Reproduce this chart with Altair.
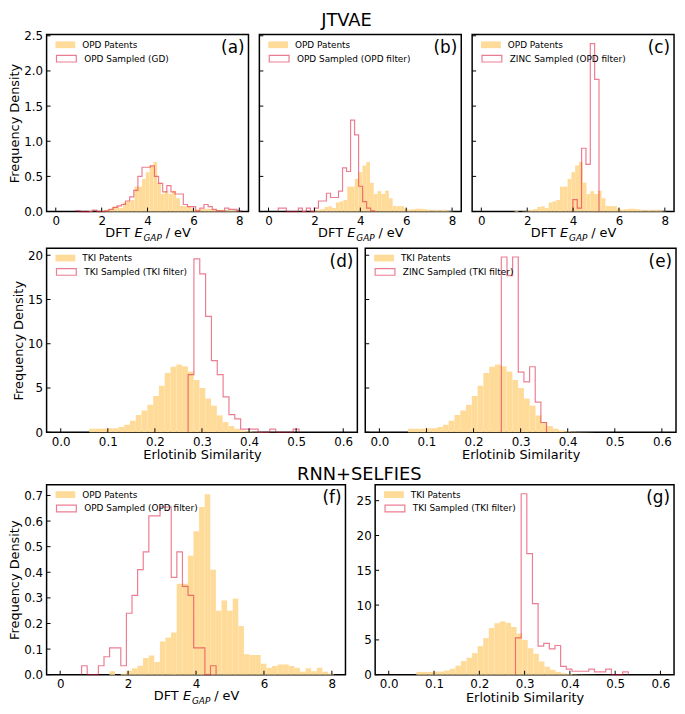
import altair as alt
import pandas as pd

FONT = "DejaVu Sans"
ORANGE = "#FFDB99"
PINK = "#DC143C"
RECT = "M-1,-0.34H1V0.34H-1Z"

# ---------------- data (bin start, bin width, bin heights) ----------------
# OPD patents, DFT E_GAP (eV)
opd_pat_start = 1.45
opd_pat_width = 0.165
opd_pat_heights = [0.013, 0.0, 0.004, 0.015, 0.025, 0.035, 0.065, 0.075, 0.05, 0.13,
                   0.145, 0.165, 0.355, 0.355, 0.465, 0.56, 0.655, 0.705, 0.41, 0.25,
                   0.29, 0.25, 0.297, 0.19, 0.08, 0.077, 0.077, 0.043, 0.027, 0.034,
                   0.04, 0.04, 0.034, 0.027, 0.012, 0.025, 0.014, 0.027, 0.012, 0.005]

# TKI patents, Erlotinib similarity
tki_pat_start = 0.061
tki_pat_width = 0.0123
tki_pat_heights = [0.4, 0.4, 0.4, 0.45, 0.45, 0.6, 0.85, 1.3, 1.95, 2.45, 3.1, 4.1,
                   5.25, 6.7, 7.4, 7.65, 7.45, 6.85, 5.9, 5.0, 3.8, 3.0, 1.9, 1.15,
                   0.7, 0.4, 0.2, 0.1, 0.05, 0.03, 0.02, 0.01]

# (a) OPD Sampled (GD)
a_start = 0.88
a_width = 0.18
a_heights = [0.01, 0, 0, 0, 0.02, 0, 0, 0.01, 0.03, 0.06, 0.08, 0.1, 0.15, 0.21,
             0.3, 0.5, 0.63, 0.63, 0.65, 0.5, 0.4, 0.28, 0.37, 0.28, 0.25, 0.25,
             0.1, 0.07, 0.07, 0.01, 0.05, 0.1, 0.07, 0.03, 0.01, 0.01, 0.05, 0.03,
             0.03, 0.01]

# (b) OPD Sampled (OPD filter)
b_start = 0.425
b_width = 0.175
b_heights = [0.05, 0.05, 0, 0, 0, 0.05, 0, 0.05, 0, 0.05, 0.15, 0.15, 0.26, 0.2,
             0.2, 0.29, 0.62, 0.57, 1.3, 1.09, 0.36, 0.14, 0.05, 0.01]

# (c) ZINC Sampled (OPD filter)
c_start = 3.99
c_width = 0.19
c_heights = [0.17, 0.05, 0.9, 0.67, 2.39, 1.88]

# (d) TKI Sampled (TKI filter)
d_start = 0.2705
d_width = 0.0124
d_heights = [6.5, 19.6, 17.9, 13.1, 8.1, 6.5, 4.0, 2.0, 1.5, 0.35, 0.35, 0.35,
             0, 0, 0.35, 0, 0, 0, 0.35]

# (e) ZINC Sampled (TKI filter)
e_start = 0.259
e_width = 0.012
e_heights = [19.8, 17.7, 19.8, 6.8, 5.7, 7.4, 3.4, 1.1]

# (f) RNN+SELFIES OPD Sampled (OPD filter)
f_start = 0.63
f_width = 0.165
f_heights = [0.035, 0, 0, 0.035, 0.07, 0.105, 0.105, 0.035, 0.24, 0.31, 0.41,
             0.48, 0.62, 0.62, 0.655, 0.655, 0.38, 0.48, 0.345, 0.31, 0.105,
             0.105, 0, 0.035]

# (g) RNN+SELFIES TKI Sampled (TKI filter)
g_start = 0.28
g_width = 0.01245
g_heights = [5.3, 26.0, 17.4, 10.2, 4.1, 4.5, 3.7, 4.2, 1.2, 0.8, 0.5, 0.5, 0.5,
             0.8, 0.4, 0.4, 0.8, 0, 0, 0.4]

# axis ticks
opd_xticks = [0, 2, 4, 6, 8]
tki_xticks = [0.0, 0.1, 0.2, 0.3, 0.4, 0.5, 0.6]
row1_yticks = [0.0, 0.5, 1.0, 1.5, 2.0, 2.5]
row2_yticks = [0, 5, 10, 15, 20]
f_yticks = [0.0, 0.1, 0.2, 0.3, 0.4, 0.5, 0.6, 0.7]
g_yticks = [0, 5, 10, 15, 20, 25]


def bars_df(start, width, heights, label):
    n = len(heights)
    return pd.DataFrame({
        "l": [start + i * width for i in range(n)],
        "r": [start + (i + 1) * width for i in range(n)],
        "h": heights,
        "s": [label] * n,
    })


def step_df(start, width, heights, label):
    edges = [start + i * width for i in range(len(heights) + 1)]
    xs, ys = [edges[0]], [0.0]
    for i, h in enumerate(heights):
        xs += [edges[i], edges[i + 1]]
        ys += [h, h]
    xs.append(edges[-1])
    ys.append(0.0)
    return pd.DataFrame({"x": xs, "y": ys, "i": list(range(len(xs))), "s": [label] * len(xs)})


def legend(stroke, ly):
    kw = dict(title=None, orient="none", legendX=9, legendY=ly, symbolType=RECT,
              symbolSize=400, labelFont=FONT, labelFontSize=9, labelColor="black",
              labelOffset=7, padding=0, rowPadding=0)
    if stroke:
        kw.update(symbolStrokeWidth=1.2, symbolFillColor="transparent")
    else:
        kw.update(symbolStrokeWidth=0)
    return alt.Legend(**kw)


def text_layer(txt, x, y, size, style="normal", align="left", dy=0):
    return alt.Chart(pd.DataFrame({"t": [txt]})).mark_text(
        align=align, baseline="middle", font=FONT, fontSize=size, fontStyle=style,
        dy=dy, color="black").encode(x=alt.value(x), y=alt.value(y), text="t:N")


def panel(W, H, xdom, ydom, xticks, yticks, xfmt, yfmt, pat, samp, letter, show_y, ytitle,
          dft, leg_y=(0.5, 13.5), extra=None):
    xs = alt.Scale(domain=xdom, nice=False, zero=False)
    ys = alt.Scale(domain=ydom, nice=False, zero=False)
    xax = alt.Axis(values=xticks, format=xfmt, labelFlush=False, labelOverlap=False,
                   title=None if dft else "Erlotinib Similarity")
    yax = (alt.Axis(values=yticks, format=yfmt, labelFlush=False, labelOverlap=False,
                    title="Frequency Density" if ytitle else None) if show_y else None)

    bars = alt.Chart(bars_df(*pat)).mark_rect().encode(
        x=alt.X("l:Q", scale=xs, axis=xax), x2="r:Q",
        y=alt.Y("h:Q", scale=ys, axis=yax), y2=alt.datum(0),
        fill=alt.Fill("s:N", scale=alt.Scale(domain=[pat[3]], range=[ORANGE]),
                      legend=legend(False, leg_y[0])))
    line = alt.Chart(step_df(*samp)).mark_line(strokeWidth=1.2, opacity=0.55).encode(
        x=alt.X("x:Q", scale=xs, axis=xax), y=alt.Y("y:Q", scale=ys, axis=yax),
        order="i:Q",
        stroke=alt.Stroke("s:N", scale=alt.Scale(domain=[samp[3]], range=[PINK]),
                          legend=legend(True, leg_y[1])))
    xt = alt.Chart(pd.DataFrame({"t": xticks})).mark_rule(color="black", strokeWidth=1).encode(
        x=alt.X("t:Q", scale=xs, axis=xax), y=alt.value(H), y2=alt.value(H - 4))
    yt = alt.Chart(pd.DataFrame({"t": yticks})).mark_rule(color="black", strokeWidth=1).encode(
        y=alt.Y("t:Q", scale=ys, axis=yax), x=alt.value(0), x2=alt.value(4))
    layers = [bars, line, xt, yt, text_layer(letter, W - 4, 14, 17, align="right")]
    if dft:
        c0 = W / 2 - 42.7
        base = H + 22
        layers += [
            text_layer("DFT", c0, base, 13),
            text_layer("E", c0 + 29.6, base, 13, "italic"),
            text_layer("GAP", c0 + 38.6, base, 9, "italic", dy=4.5),
            text_layer("/ eV", c0 + 61.0, base, 13),
        ]
    if extra is not None:
        layers.append(extra)
    return alt.layer(*layers).properties(width=W, height=H)


OPD_X = [-0.4, 8.4]
TKI_X = [-0.03, 0.63]
W1, H1 = 204, 179
W2, H2 = 314, 186
W3, H3 = 302, 192

# row-1 heading drawn above the middle panel
jtvae = text_layer("JTVAE", W1 / 2 - 14, -13, 18, align="center")

pa = panel(W1, H1, OPD_X, [0, 2.52], opd_xticks, row1_yticks, "d", ".1f",
           (opd_pat_start, opd_pat_width, opd_pat_heights, "OPD Patents"),
           (a_start, a_width, a_heights, "OPD Sampled (GD)"), "(a)", True, True, True)
pb = panel(W1, H1, OPD_X, [0, 2.52], opd_xticks, row1_yticks, "d", ".1f",
           (opd_pat_start, opd_pat_width, opd_pat_heights, "OPD Patents"),
           (b_start, b_width, b_heights, "OPD Sampled (OPD filter)"), "(b)", False, False, True,
           extra=jtvae)
pc = panel(W1, H1, OPD_X, [0, 2.52], opd_xticks, row1_yticks, "d", ".1f",
           (opd_pat_start, opd_pat_width, opd_pat_heights, "OPD Patents"),
           (c_start, c_width, c_heights, "ZINC Sampled (OPD filter)"), "(c)", False, False, True)
pd_ = panel(W2, H2, TKI_X, [0, 20.8], tki_xticks, row2_yticks, ".1f", "d",
            (tki_pat_start, tki_pat_width, tki_pat_heights, "TKI Patents"),
            (d_start, d_width, d_heights, "TKI Sampled (TKI filter)"), "(d)", True, True, False,
            leg_y=(0, 13))
pe = panel(W2, H2, TKI_X, [0, 20.8], tki_xticks, row2_yticks, ".1f", "d",
           (tki_pat_start, tki_pat_width, tki_pat_heights, "TKI Patents"),
           (e_start, e_width, e_heights, "ZINC Sampled (TKI filter)"), "(e)", False, False, False,
           leg_y=(0, 13))
pf = panel(W3, H3, OPD_X, [0, 0.742], opd_xticks, f_yticks, "d", ".1f",
           (opd_pat_start, opd_pat_width, opd_pat_heights, "OPD Patents"),
           (f_start, f_width, f_heights, "OPD Sampled (OPD filter)"), "(f)", True, True, True,
           leg_y=(0, 13))
pg = panel(W3, H3, TKI_X, [0, 27.3], tki_xticks, g_yticks, ".1f", "d",
           (tki_pat_start, tki_pat_width, tki_pat_heights, "TKI Patents"),
           (g_start, g_width, g_heights, "TKI Sampled (TKI filter)"), "(g)", True, False, False,
           leg_y=(0, 13))


def indep(c):
    return c.resolve_scale(fill="independent", stroke="independent").resolve_legend(
        fill="independent", stroke="independent")


row1 = indep(alt.hconcat(pa, pb, pc, spacing=8))
row2 = indep(alt.hconcat(pd_, pe, spacing=5))
row3 = indep(alt.hconcat(pf, pg, spacing=8, title=alt.Title("RNN+SELFIES", dx=18, offset=0)))

chart = indep(alt.vconcat(row1, row2, row3, spacing=3)).properties(
    padding={"left": 0, "top": 0, "right": 0, "bottom": 0}
).configure_view(stroke="black", strokeWidth=1.5).configure_axis(
    grid=False, domain=False, ticks=False, labelFont=FONT, labelFontSize=12,
    labelColor="black", labelPadding=4, titleFont=FONT, titleFontSize=13,
    titleColor="black", titleFontWeight="normal", titlePadding=2
).configure_title(
    font=FONT, fontSize=18, fontWeight="normal", color="black", anchor="middle", offset=2
)

chart.save("out.html", embed_options={"renderer": "svg", "actions": False})
